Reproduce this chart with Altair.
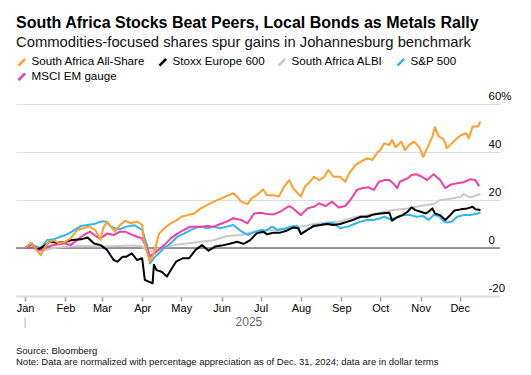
import altair as alt
import pandas as pd

TITLE = "South Africa Stocks Beat Peers, Local Bonds as Metals Rally"
SUBTITLE = "Commodities-focused shares spur gains in Johannesburg benchmark"
SOURCE = "Source: Bloomberg"
NOTE = "Note: Data are normalized with percentage appreciation as of Dec. 31, 2024; data are in dollar terms"

series_names = ["South Africa All-Share", "Stoxx Europe 600", "South Africa ALBI", "S&P 500", "MSCI EM gauge"]
series_colors = ["#FF9E2C", "#000000", "#C9C9C9", "#2DB6F0", "#F03EA6"]

# x values: days since 2025-01-01; y values: % change
allshare_days = [0, 5, 12, 17, 22, 26, 31, 35, 40, 45, 49, 54, 58, 60, 63, 69, 73, 77, 81, 86,
                 90, 91, 94, 96, 99, 103, 107, 112, 117, 120, 125, 130, 135, 140, 145, 151, 155, 160, 163, 166,
                 171, 174, 178, 183, 186, 191, 195, 199, 203, 206, 212, 215, 219, 222, 226, 230, 233, 237, 242, 246,
                 249, 254, 258, 263, 267, 271, 273, 276, 280, 282, 285, 289, 292, 295, 299, 303, 306, 309, 313, 315,
                 318, 321, 323, 324, 328, 332, 335, 339, 341, 344, 348, 350]
allshare_vals = [0, 2, -3, 2, 3.3, 2, 2.6, 4, 7.5, 8.2, 9, 7.5, 3.3, 8.2, 11, 6.8, 9.6, 11.4, 10.3, 11,
                 9.6, 4, -2.2, -5.7, -2.2, 6, 8.2, 10.3, 11.7, 13, 13.7, 14.4, 16.5, 18, 19.3, 20.7, 21.7, 22.8, 21.4, 19.3,
                 18.3, 20.7, 22, 24.4, 22, 22, 21.4, 25.5, 28.3, 24.9, 21.4, 25.5, 27.6, 29.7, 28.3, 29.7, 32.5, 29.7, 29.7, 27.6,
                 31, 34.6, 36, 37.4, 36.7, 40, 40.8, 43.6, 42.9, 45, 42, 44.3, 40.8, 42.9, 44.3, 42, 38, 41.5, 46.4, 50.3,
                 46.4, 45.7, 43.6, 41.5, 43.6, 45.7, 47, 47.8, 45.7, 50.6, 50.6, 52.6]

stoxx_days = [0, 5, 9, 14, 19, 25, 31, 36, 43, 48, 53, 58, 63, 68, 71, 75, 78, 82, 86, 90,
              92, 95, 98, 99, 101, 105, 109, 112, 116, 121, 126, 131, 136, 141, 146, 151, 158, 163, 168, 173,
              178, 183, 186, 191, 196, 201, 206, 210, 212, 217, 222, 227, 232, 237, 242, 248, 253, 258, 263, 268,
              273, 280, 282, 286, 290, 294, 297, 300, 304, 308, 310, 313, 315, 319, 323, 326, 330, 335, 340, 344,
              346, 350]
stoxx_vals = [0, 1.9, -0.8, 0.6, 2.6, 2.2, 2.6, 3.3, 3.6, 4.4, 1.9, 1.2, -0.8, -5, -5.7, -3.6, -3.6, -2.2, -5, -4.3,
              -13.3, -14, -14.7, -7, -9.2, -9.9, -11.9, -9.2, -5.7, -4.3, -4.3, -0.8, 1.2, -1.1, 0.6, 1, 1.9, 2.6, 1.7, 3.3,
              6.1, 6.8, 5.7, 6.4, 6.4, 7.2, 8.5, 8.2, 5.8, 7.5, 9.3, 9.6, 10, 9.6, 10, 11, 11.9, 13, 13, 14,
              14.4, 14.7, 11.4, 12.8, 13.7, 15.1, 16.9, 15.8, 15.1, 14.4, 15.1, 16.5, 14.4, 13.7, 11.7, 13.3, 15.6, 16.1, 16.5, 17.2,
              16.1, 15.8]

albi_days = [0, 7, 14, 22, 33, 45, 58, 71, 84, 90, 95, 99, 107, 114, 124, 135, 145, 155, 166, 176,
             181, 191, 201, 212, 222, 232, 242, 253, 263, 273, 283, 294, 304, 314, 319, 324, 329, 335, 337, 342,
             350]
albi_vals = [0, 0, -1.1, 0, 0.6, 0.8, 0.6, 0.8, 1, 0.6, -1.5, -0.8, 0.3, 1.2, 1.9, 2.6, 3.2, 5, 5.4, 6.8,
             7.2, 7.5, 8.2, 8.9, 10, 10.6, 11, 12.8, 13.7, 14.7, 15.8, 16.5, 17.5, 18.3, 20, 20.3, 20.7, 21.4, 22.5, 21.1,
             22.5]

spx_days = [0, 5, 12, 17, 22, 27, 31, 36, 43, 48, 53, 58, 62, 66, 69, 73, 78, 84, 90, 94,
            96, 100, 107, 112, 117, 122, 130, 135, 140, 145, 150, 155, 160, 166, 171, 176, 181, 185, 190, 194,
            199, 204, 209, 212, 217, 222, 227, 232, 237, 242, 248, 253, 258, 263, 268, 273, 276, 281, 286, 291,
            296, 301, 306, 310, 314, 318, 322, 324, 328, 332, 337, 342, 348, 350]
spx_vals = [0, 1.2, 0, 3.3, 3.6, 4.7, 5.4, 6.8, 9.2, 9.6, 10, 11, 11, 8.9, 8.2, 7.8, 8.9, 9.5, 7.5, 0.5,
            -6.4, -3.6, 0, 2, 4.7, 6, 8.2, 8.9, 8.2, 8.9, 8.2, 8.9, 9.6, 7, 5.5, 6.5, 7.5, 7.2, 8.9, 7.5,
            7.9, 8.9, 9.3, 6.1, 7.8, 8.9, 9.6, 10.3, 10.3, 8.2, 8.9, 10, 11, 11.7, 11.7, 12.4, 13, 11.9, 12.8, 13.7,
            13.7, 13, 13.3, 11.7, 13.7, 13.3, 11, 10.6, 11, 13, 13.7, 13.7, 14.4, 14.9]

msci_days = [0, 7, 12, 17, 22, 31, 35, 40, 45, 50, 55, 58, 63, 68, 73, 77, 81, 86, 90, 94,
             96, 101, 107, 112, 117, 122, 127, 135, 140, 145, 150, 155, 160, 166, 171, 176, 181, 186, 191, 196,
             203, 206, 212, 217, 222, 226, 231, 236, 241, 246, 250, 255, 259, 264, 268, 272, 276, 280, 283, 286,
             288, 294, 297, 301, 305, 309, 314, 319, 323, 327, 332, 337, 342, 346, 349]
msci_vals = [0, 0, -1, 0.5, 1.2, 2, 1.2, 3.3, 5.4, 6.8, 4.7, 4, 6, 5.4, 6.8, 6.8, 5.8, 4.7, 4, -0.8,
             -3.5, -1.5, 1.2, 4, 6, 7.5, 8.9, 8.9, 9.2, 8.9, 10, 11, 12.4, 11.7, 10.3, 14.4, 14.7, 14.2, 14, 15.1,
             17.5, 16.5, 13.7, 16.5, 17.2, 18.6, 17.5, 19.3, 16.9, 17.5, 20, 24.2, 24.9, 25.3, 24.2, 27.6, 28.3, 28.3, 26.9, 24.9,
             27.6, 29, 30.4, 30.7, 29.7, 28.3, 30.7, 28.3, 24.9, 26.4, 27, 27.4, 28.6, 28.3, 25.8]

y_ticks = [-20, 0, 20, 40, 60]
month_ticks = list(range(1, 13))
year_labels = ["2025"]

start = pd.Timestamp("2025-01-01")
# drawing order: bottom to top
draw_order = [
    ("South Africa ALBI", albi_days, albi_vals),
    ("S&P 500", spx_days, spx_vals),
    ("MSCI EM gauge", msci_days, msci_vals),
    ("Stoxx Europe 600", stoxx_days, stoxx_vals),
    ("South Africa All-Share", allshare_days, allshare_vals),
]
rows = []
for order, (name, days, vals) in enumerate(draw_order):
    for d, v in zip(days, vals):
        rows.append({"series": name, "date": start + pd.Timedelta(days=d), "value": v, "z": order})
df = pd.DataFrame(rows)

W, H = 484, 192
FONT = "Liberation Sans"

x_scale = alt.Scale(domain=[alt.DateTime(year=2024, month=12, date=25),
                            alt.DateTime(year=2026, month=1, date=1)])
y_scale = alt.Scale(domain=[-20, 60], nice=False)

x_axis = alt.Axis(
    values=[alt.DateTime(year=2025, month=m, date=1) for m in month_ticks],
    format="%b", labelFontSize=11, labelFont=FONT, labelColor="#000",
    labelFlush=False, tickColor="#999", tickSize=5, tickWidth=1.5,
    domainColor="#ddd", domainWidth=2, grid=False, title=None, labelPadding=1,
)
y_axis = alt.Axis(
    orient="right", values=y_ticks,
    labelExpr="datum.value == 60 ? '60%' : (datum.value < 0 ? '-' + abs(datum.value) : '' + datum.value)",
    grid=True, gridColor="#ddd", gridWidth=1, domain=False, ticks=False,
    labelAlign="left", labelPadding=-12, labelBaseline="alphabetic", labelOffset=-5,
    labelFontSize=11.5, labelFont=FONT, labelColor="#000", title=None,
)

zero = alt.Chart(pd.DataFrame({"v": [0]})).mark_rule(color="#777", strokeWidth=1.5).encode(
    y=alt.Y("v:Q", scale=y_scale, axis=y_axis)
)

lines = alt.Chart(df).mark_line(strokeWidth=2, strokeJoin="round").encode(
    x=alt.X("date:T", scale=x_scale, axis=x_axis),
    y=alt.Y("value:Q", scale=y_scale, axis=y_axis),
    color=alt.Color(
        "series:N",
        scale=alt.Scale(domain=series_names, range=series_colors),
        legend=alt.Legend(
            orient="none", legendX=0, legendY=-48, direction="horizontal", columns=4,
            title=None, symbolType="M-1,1L1,-1", symbolSize=45, symbolStrokeWidth=2.5,
            labelFontSize=11.6, labelFont=FONT, labelColor="#000", labelOffset=4,
            columnPadding=8, rowPadding=-3.5, gridAlign="each",
        ),
    ),
    detail="z:O",
)

year_df = pd.DataFrame({"date": [pd.Timestamp("2025-06-22")], "label": year_labels})
year_text = alt.Chart(year_df).mark_text(fontSize=12, font=FONT, color="#666", baseline="middle").encode(
    x=alt.X("date:T", scale=x_scale, axis=x_axis), y=alt.value(H + 26), text="label:N"
)
year_tick = alt.Chart(pd.DataFrame({"date": [start]})).mark_rule(color="#ccc", strokeWidth=1.5).encode(
    x=alt.X("date:T", scale=x_scale, axis=x_axis), y=alt.value(H + 22), y2=alt.value(H + 32)
)

source_text = alt.Chart(pd.DataFrame({"t": [SOURCE]})).mark_text(
    fontSize=9.5, font=FONT, color="#111", align="left", baseline="middle"
).encode(x=alt.value(0), y=alt.value(H + 55), text="t:N")
note_text = alt.Chart(pd.DataFrame({"t": [NOTE]})).mark_text(
    fontSize=9.5, font=FONT, color="#111", align="left", baseline="middle"
).encode(x=alt.value(0), y=alt.value(H + 65.5), text="t:N")

chart = alt.layer(zero, lines, year_tick, year_text, source_text, note_text).properties(
    width=W, height=H,
    title=alt.TitleParams(
        text=TITLE, subtitle=SUBTITLE, anchor="start", frame="group",
        font=FONT, fontSize=16, fontWeight="bold", color="#000",
        subtitleFont=FONT, subtitleFontSize=14.8, subtitleColor="#111", subtitlePadding=4, offset=6,
    ),
    padding={"left": 16, "top": 104, "right": 31, "bottom": 79},
    autosize=alt.AutoSizeParams(type="none"),
).configure_view(stroke=None)

chart.save("out.html", embed_options={"renderer": "svg", "actions": False})
